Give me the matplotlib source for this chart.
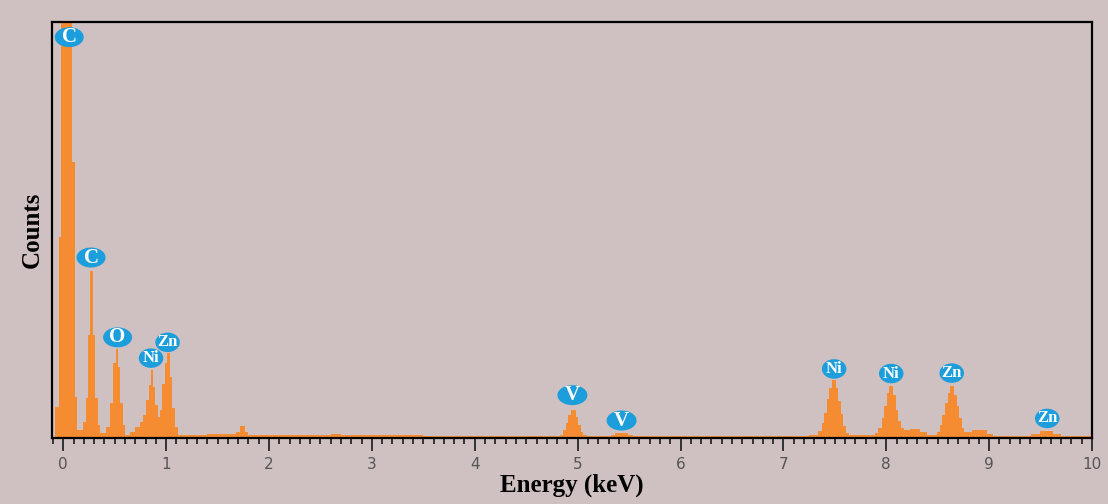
#!/usr/bin/env python3

"""EDS spectrum: counts vs energy with element labels in blue ellipses."""

import matplotlib
matplotlib.use("Agg")
import matplotlib.pyplot as plt  # noqa: E402
from matplotlib.patches import Ellipse  # noqa: E402
from matplotlib.transforms import ScaledTranslation  # noqa: E402

# ── Spectrum (counts on a 0-1000 display scale) ───────────────────────────

bin_edges = [
    -0.083, -0.041, -0.018, 0.089, 0.112, 0.134, 0.193, 0.219, 0.241, 0.264,
    0.290, 0.313, 0.335, 0.355, 0.420, 0.450, 0.480, 0.510, 0.533, 0.556,
    0.580, 0.600, 0.646, 0.695, 0.744, 0.771, 0.808, 0.831, 0.851, 0.873,
    0.896, 0.916, 0.938, 0.960, 0.987, 1.013, 1.036, 1.058, 1.084, 1.116,
    1.400, 1.680, 1.720, 1.765, 1.800, 2.600, 2.700, 3.500, 4.830, 4.860,
    4.883, 4.910, 4.935, 4.980, 5.005, 5.030, 5.055, 5.090, 5.320, 5.360,
    5.490, 5.540, 7.250, 7.340, 7.372, 7.394, 7.420, 7.445, 7.470, 7.510,
    7.533, 7.556, 7.582, 7.605, 7.637, 7.886, 7.920, 7.955, 7.980, 8.005,
    8.030, 8.070, 8.094, 8.116, 8.140, 8.172, 8.230, 8.330, 8.395, 8.490,
    8.519, 8.545, 8.571, 8.597, 8.620, 8.660, 8.684, 8.710, 8.733, 8.758,
    8.830, 8.976, 9.040, 9.410, 9.490, 9.620, 9.700, 10.000,
]
bin_counts = [
    75, 483, 1400, 663, 99, 20, 39, 96, 248,
    402, 248, 96, 31, 12, 27, 84, 180, 214, 171,
    84, 31, 7, 15, 27, 39, 55, 91, 127, 163,
    123, 79, 51, 67, 131, 180, 204, 147, 71, 27,
    8, 9, 15, 29, 15, 7, 9, 6, 4, 8,
    19, 35, 55, 67, 51, 31, 14, 8, 4, 6,
    12, 6, 4, 6, 16, 37, 61, 93, 121, 139,
    121, 89, 57, 28, 12, 6, 11, 24, 48, 76,
    108, 126, 104, 68, 40, 24, 18, 21, 14, 6,
    14, 32, 56, 84, 108, 126, 104, 76, 48, 24,
    14, 19, 9, 5, 9, 16, 9, 4,
]

# Element labels and where their ellipses sit (keV, counts)
peak_labels = ["C", "C", "O", "Ni", "Zn", "V", "V", "Ni", "Ni", "Zn", "Zn"]
label_kev = [0.058, 0.270, 0.528, 0.853, 1.014, 4.949, 5.427,
             7.493, 8.048, 8.636, 9.564]
label_counts = [964, 434, 242, 192, 230, 103, 42, 166, 155, 156, 47]

x_ticks = list(range(0, 11))

BG = "#CFC0C1"
ORANGE = "#F68C32"
BLUE = "#1C9EDC"
SERIF = ["Liberation Serif", "DejaVu Serif"]


def draw_label(fig, ax, text, x, y):
    big = len(text) == 1
    w, h = (0.30 if text == "V" else 0.29, 0.20) if big else (0.245, 0.195)
    trans = fig.dpi_scale_trans + ScaledTranslation(x, y, ax.transData)
    ax.add_patch(Ellipse((0, 0), w, h, transform=trans, facecolor=BLUE,
                         edgecolor="none", zorder=4, clip_on=False))
    ax.text(x, y, text, ha="center", va="center", color="white",
            fontsize=15 if big else 12, fontweight="bold", family=SERIF,
            zorder=5, clip_on=False)


def main():
    fig = plt.figure(figsize=(11.08, 5.04), dpi=100, facecolor=BG)
    ax = fig.add_axes([0.0469, 0.131, 0.9387, 0.825], facecolor=BG)

    ax.stairs(bin_counts, bin_edges, fill=True, color=ORANGE,
              linewidth=0, zorder=2)

    ax.set_xlim(-0.11, 10.0)
    ax.set_ylim(0, 1000)

    for spine in ax.spines.values():
        spine.set_linewidth(1.6)
        spine.set_color("black")
        spine.set_zorder(3)

    ax.set_xticks(x_ticks)
    ax.set_xticks([i / 10 for i in range(-1, 101)], minor=True)
    ax.tick_params(axis="x", which="major", length=9, width=1.4,
                   color="#333333", pad=5, labelsize=11,
                   labelcolor="#555555")
    ax.tick_params(axis="x", which="minor", length=4.5, width=1.4,
                   color="#333333")
    ax.set_yticks([])

    ax.set_xlabel("Energy (keV)", fontsize=18, fontweight="bold",
                  family=SERIF, labelpad=1)
    ax.set_ylabel("Counts", fontsize=18, fontweight="bold", family=SERIF,
                  labelpad=6)

    for text, x, y in zip(peak_labels, label_kev, label_counts):
        draw_label(fig, ax, text, x, y)

    fig.savefig("out.png", dpi=100, facecolor=BG)
    plt.close(fig)


if __name__ == "__main__":
    main()
